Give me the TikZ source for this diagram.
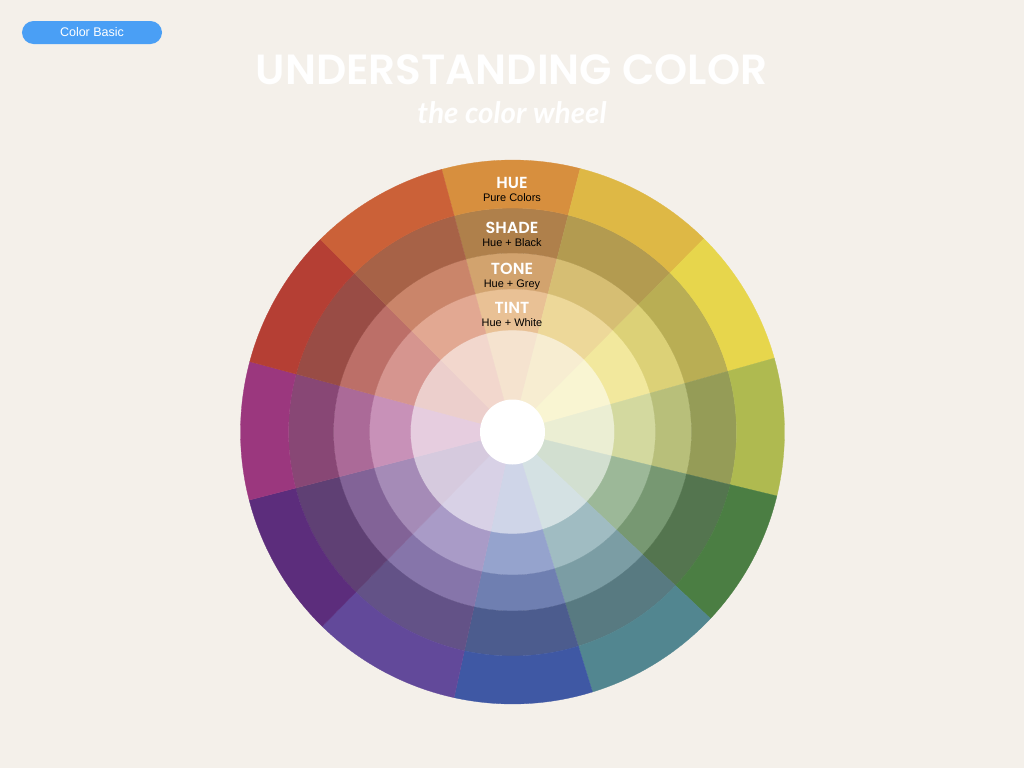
\documentclass[tikz,border=0pt]{standalone}
\usepackage{fontspec}
\setmainfont{Liberation Sans}
\newfontfamily\titlefont{Poppins}[UprightFont=* Medium, BoldFont=* SemiBold]
\newfontfamily\handfont{Lato}
\usetikzlibrary{positioning}

\definecolor{paper}{RGB}{244,240,234}
\definecolor{pillblue}{RGB}{74,159,245}
\definecolor{shadegrey}{RGB}{100,100,100}
\definecolor{tonegrey}{RGB}{200,200,200}
\definecolor{cOrange}{RGB}{215,143,62}
\definecolor{cAmber}{RGB}{222,184,69}
\definecolor{cYellow}{RGB}{231,214,76}
\definecolor{cLime}{RGB}{175,186,80}
\definecolor{cGreen}{RGB}{75,126,67}
\definecolor{cTeal}{RGB}{82,134,144}
\definecolor{cBlue}{RGB}{63,88,164}
\definecolor{cIndigo}{RGB}{98,73,154}
\definecolor{cViolet}{RGB}{92,45,124}
\definecolor{cMagenta}{RGB}{155,55,126}
\definecolor{cRed}{RGB}{181,63,52}
\definecolor{cVermilion}{RGB}{203,97,56}

\tikzset{
	ringname/.style={text=white, inner sep=0pt, font=\titlefont\bfseries\fontsize{11.4}{11.4}\selectfont},
	ringnote/.style={inner sep=0pt, font=\fontsize{7.8}{8}\selectfont},
	pill/.style={fill=pillblue, text=white, minimum width=35mm, minimum height=5.75mm, rounded corners=2.875mm, inner sep=0pt, font=\fontsize{8.9}{9}\selectfont}
}

\begin{document}
\begin{tikzpicture}[x=0.25mm, y=-0.25mm]
	\fill[paper] (0,0) rectangle (1024,768);
	\useasboundingbox (0,0) rectangle (1024,768);

	\node[pill] (basic) at (92,32.5) {Color Basic};
	\node[text=white, font=\titlefont\bfseries\fontsize{30}{30}\selectfont] (title) at (511.5,70) {UNDERSTANDING COLOR};
	\node[text=white, font=\handfont\bfseries\itshape\fontsize{21}{21}\selectfont] (subtitle) at (512,113) {the color wheel};

	\begin{scope}[shift={(512.5,432)}, y=0.25mm]
		\foreach \s/\e/\hue in {105.1/75.6/cOrange, 75.6/45.3/cAmber, 45.3/15.75/cYellow, 15.75/-13.6/cLime, -13.6/-43.3/cGreen, -43.3/-72.9/cTeal, -72.9/-102.4/cBlue, -102.4/-134.4/cIndigo, -134.4/-165.5/cViolet, 194.5/165/cMagenta, 165/134.9/cRed, 134.9/105.1/cVermilion}
			\foreach \ri/\ro/\mix in {32/102/25!white, 102/143/55!white, 143/179/65!tonegrey, 179/224/65!shadegrey, 224/272/100!white}
				\filldraw[fill=\hue!\mix, draw=\hue!\mix, line width=0.2pt] (\e:\ro) arc[start angle=\e, end angle=\s, radius=\ro] -- (\s:\ri) arc[start angle=\s, end angle=\e, radius=\ri] -- cycle;
	\end{scope}
	\node[circle, fill=white, minimum size=16.25mm, inner sep=0pt] (hub) at (512.5,432) {};

	\node[ringname] (hue) at (512,183) {HUE};
	\node[ringnote, below=3pt of hue] (huenote) {Pure Colors};
	\node[ringname] (shade) at (512,228) {SHADE};
	\node[ringnote, below=3pt of shade] (shadenote) {Hue + Black};
	\node[ringname] (tone) at (512,269) {TONE};
	\node[ringnote, below=3pt of tone] (tonenote) {Hue + Grey};
	\node[ringname] (tint) at (512,308) {TINT};
	\node[ringnote, below=3pt of tint] (tintnote) {Hue + White};
\end{tikzpicture}
\end{document}
